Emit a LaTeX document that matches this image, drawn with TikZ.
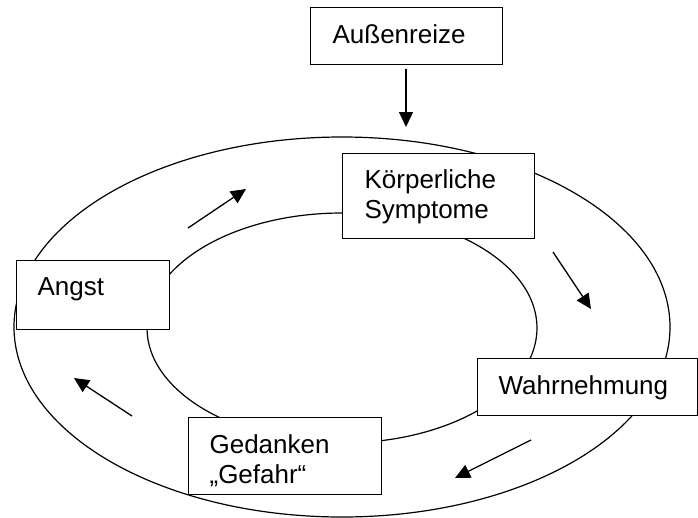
\documentclass[tikz,border=0pt]{standalone}
\usepackage{fontspec}
\setmainfont{Liberation Sans}
\usetikzlibrary{arrows.meta}
\begin{document}
\begin{tikzpicture}[x=1pt,y=-1pt, line width=1.2pt,
  box/.style={draw, fill=white, inner sep=0pt, anchor=north west},
  lbl/.style={anchor=base west, inner sep=0pt, font=\fontsize{26}{30}\selectfont, align=left},
  flow/.style={-{Triangle[length=15pt,width=14pt]}, line width=1.3pt}]
\useasboundingbox (0,0) rectangle (698,517);
% rings
\draw (342,327) ellipse [x radius=328pt, y radius=190pt];
\draw (342,328) ellipse [x radius=195pt, y radius=115pt];
% boxes
\node[box, minimum width=192pt, minimum height=57pt] (aussen) at (310,7) {};
\node[box, minimum width=192pt, minimum height=85pt] (koerper) at (342,153) {};
\node[box, minimum width=153pt, minimum height=69pt] (angst) at (16,260) {};
\node[box, minimum width=220pt, minimum height=57pt] (wahr) at (477,358) {};
\node[box, minimum width=193pt, minimum height=77pt] (gedanken) at (188,417) {};
% labels (base = baseline of last line)
\node[lbl] (aussenT) at (332,43) {Außenreize};
\node[lbl] (koerperT) at (364,218) {Körperliche\\Symptome};
\node[lbl] (angstT) at (37,295) {Angst};
\node[lbl] (wahrT) at (498,394) {Wahrnehmung};
\node[lbl] (gedankenT) at (209,483) {Gedanken\\„Gefahr“};
% arrows
\coordinate (d0) at (406,69);  \coordinate (d1) at (406,127);
\coordinate (a0) at (188,228); \coordinate (a1) at (246,189);
\coordinate (b0) at (553,252); \coordinate (b1) at (591,309);
\coordinate (c0) at (531,440); \coordinate (c1) at (455,478);
\coordinate (e0) at (132,416); \coordinate (e1) at (74,378);
\draw[flow] (d0) -- (d1);
\draw[flow] (a0) -- (a1);
\draw[flow] (b0) -- (b1);
\draw[flow] (c0) -- (c1);
\draw[flow] (e0) -- (e1);
\end{tikzpicture}
\end{document}
